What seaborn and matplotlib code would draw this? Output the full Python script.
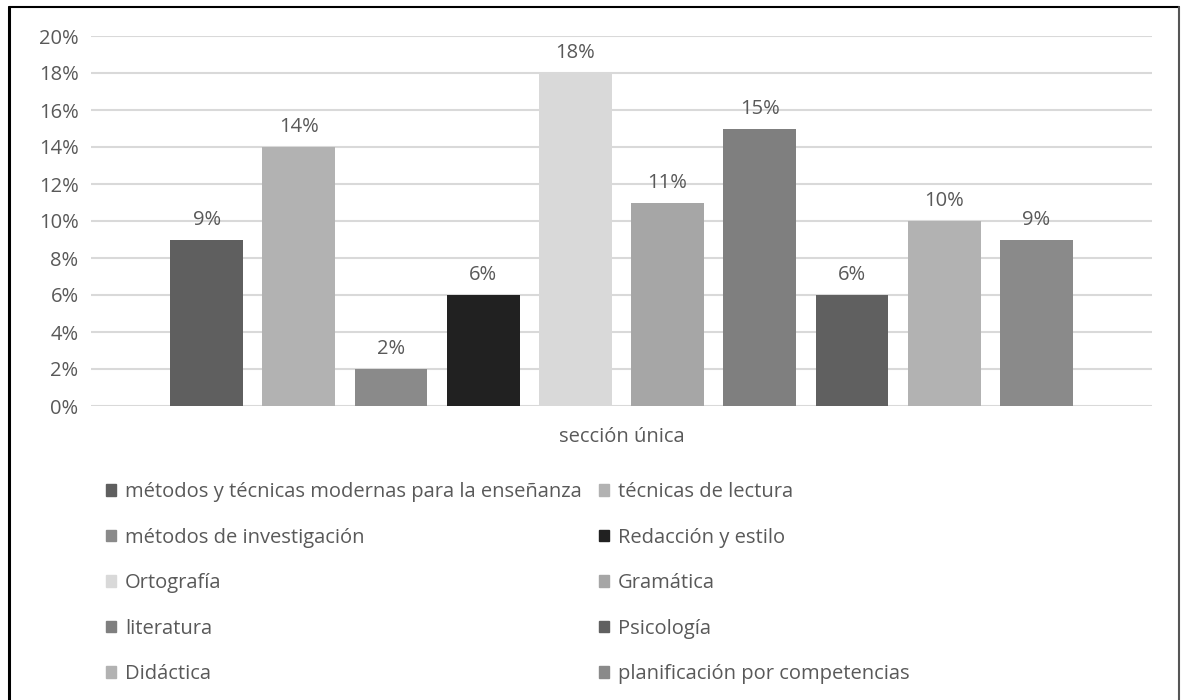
import matplotlib
matplotlib.use("Agg")
import matplotlib.pyplot as plt
import seaborn as sns
import pandas as pd
from matplotlib.lines import Line2D
from matplotlib.ticker import FuncFormatter

categories = [
    "métodos y técnicas modernas para la enseñanza",
    "técnicas de lectura",
    "métodos de investigación",
    "Redacción y estilo",
    "Ortografía",
    "Gramática",
    "literatura",
    "Psicología",
    "Didáctica",
    "planificación por competencias",
]
values = [0.09, 0.14, 0.02, 0.06, 0.18, 0.11, 0.15, 0.06, 0.10, 0.09]
group = ["sección única"] * len(categories)
colors = ["#5f5f5f", "#b2b2b2", "#8a8a8a", "#212121", "#d9d9d9",
          "#a6a6a6", "#7f7f7f", "#606060", "#b2b2b2", "#8a8a8a"]
yticks = [0, 0.02, 0.04, 0.06, 0.08, 0.10, 0.12, 0.14, 0.16, 0.18, 0.20]

df = pd.DataFrame({"grupo": group, "curso": categories, "valor": values})

sns.set_theme(style="white")
FONT = ["Open Sans", "DejaVu Sans"]
plt.rcParams["font.family"] = FONT
TXT = "#595959"
FS = 14.5

W, H = 1181, 700
fig = plt.figure(figsize=(W / 100, H / 100), dpi=100)
ax = fig.add_axes([91 / W, 1 - 406 / H, (1152 - 91) / W, (406 - 36) / H])

sns.barplot(data=df, x="grupo", y="valor", hue="curso", hue_order=categories,
            palette=colors, width=0.869, gap=0.21, ax=ax, legend=False,
            saturation=1, errorbar=None, linewidth=0, edgecolor="none")

ax.set_xlim(-0.5, 0.5)
ax.set_ylim(0, 0.20)
ax.set_yticks(yticks)
ax.yaxis.set_major_formatter(FuncFormatter(lambda v, p: f"{round(v * 100):d}%"))
ax.grid(axis="y", color="#d9d9d9", linewidth=1.5)
ax.set_axisbelow(True)
for s in ax.spines.values():
    s.set_visible(False)
ax.tick_params(axis="y", length=0, pad=9, labelsize=FS, labelcolor=TXT)
ax.tick_params(axis="x", length=0, pad=15, labelsize=FS, labelcolor=TXT)
ax.set_xlabel("")
ax.set_ylabel("")

for cont in ax.containers:
    ax.bar_label(cont, labels=[f"{round(v * 100):d}%" for v in cont.datavalues],
                 padding=7, fontsize=FS, color=TXT)

handles = [plt.Rectangle((0, 0), 1, 1, color=c) for c in colors]
order = [0, 2, 4, 6, 8, 1, 3, 5, 7, 9]
leg = fig.legend([handles[i] for i in order], [categories[i] for i in order],
                 ncol=2, loc="upper left", bbox_to_anchor=(106 / W, 1 - 482 / H),
                 frameon=False, fontsize=FS, labelcolor=TXT,
                 handlelength=0.5, handleheight=0.5, handletextpad=0.45,
                 columnspacing=0.85, labelspacing=1.27, borderaxespad=0,
                 borderpad=0)

# outer border
fig.add_artist(Line2D([9 / W, 9 / W], [0, 1 - 7 / H], color="black", lw=2.2,
                      transform=fig.transFigure))
fig.add_artist(Line2D([9 / W, 1179 / W], [1 - 7 / H, 1 - 7 / H], color="black",
                      lw=1.5, transform=fig.transFigure))
fig.add_artist(Line2D([1179 / W, 1179 / W], [0, 1 - 7 / H], color="#555555",
                      lw=1.5, transform=fig.transFigure))

fig.savefig("out.png", dpi=100)
